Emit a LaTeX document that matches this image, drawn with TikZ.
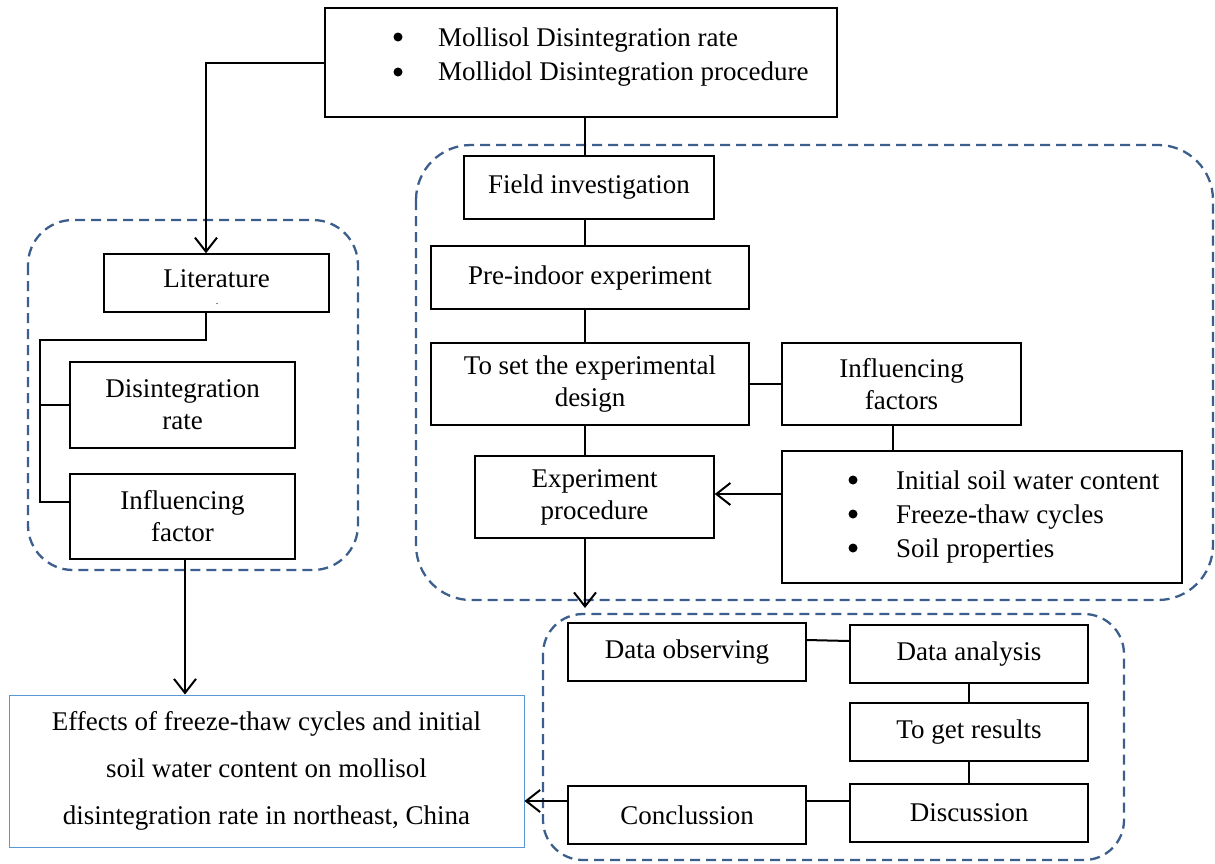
\documentclass[tikz,border=0pt]{standalone}
\usepackage{fontspec}
\setmainfont{Liberation Serif}
\usetikzlibrary{arrows.meta,calc}
\newcommand\fsz{\fontsize{27}{32}\selectfont}
\definecolor{dashblue}{RGB}{59,94,140}
\definecolor{lightblue}{RGB}{91,150,215}
\tikzset{
 boxnode/.style={draw, line width=1.5pt, inner sep=0pt, align=center, font=\fsz},
 dashregion/.style={draw=dashblue, line width=2.3pt, dash pattern=on 10pt off 6pt},
 conn/.style={line width=2pt},
 arr/.style={conn, -{Straight Barb[length=14pt,width=22pt,line width=2pt]}},
 bodytext/.style={font=\fsz, anchor=base west, inner sep=0pt},
 dot/.style={circle, fill, inner sep=0pt, minimum size=9pt},
}
\begin{document}
\begin{tikzpicture}[x=1pt,y=-1pt]
\useasboundingbox (0,0) rectangle (1215,863);
% dashed regions
\draw[dashregion, rounded corners=45pt] (28,220) rectangle (358,570);
\draw[dashregion, rounded corners=55pt] (416,145) rectangle (1213,600);
\draw[dashregion, rounded corners=40pt] (543,614) rectangle (1124,860);
% top box
\node[boxnode, minimum width=512pt, minimum height=109pt] (top) at (581,62.5) {};
\node[dot] (tb1) at (398,37) {};
\node[dot] (tb2) at (398,72) {};
\node[bodytext] (tt1) at (438,46) {Mollisol Disintegration rate};
\node[bodytext] (tt2) at (438,80) {Mollidol Disintegration procedure};
% left column
\node[boxnode, minimum width=225pt, minimum height=58pt] (lit) at (216.5,283) {};
\node[font=\fsz, inner sep=0pt] (littext) at (216.5,279) {Literature};
\node[font=\fontsize{10}{10}\selectfont, inner sep=0pt] (litdot) at (217,304) {.};
\node[boxnode, minimum width=225pt, minimum height=86pt] (dis) at (182.5,405) {Disintegration\\rate};
\node[boxnode, minimum width=225pt, minimum height=85pt] (inf) at (182.5,516.5) {Influencing\\factor};
\node[boxnode, draw=lightblue, line width=1pt, minimum width=515pt, minimum height=152pt, font=\fontsize{27}{47}\selectfont] (eff) at (266.5,771) {Effects of freeze-thaw cycles and initial\\soil water content on mollisol\\disintegration rate in northeast, China};
% right region
\node[boxnode, minimum width=250pt, minimum height=63pt] (field) at (589,187.5) {Field investigation};
\node[boxnode, minimum width=318pt, minimum height=63pt] (pre) at (590,277.5) {Pre-indoor experiment};
\node[boxnode, minimum width=318pt, minimum height=82pt] (set) at (590,384) {To set the experimental\\design};
\node[boxnode, minimum width=239pt, minimum height=82pt] (infl) at (901.5,384) {Influencing\\factors};
\node[boxnode, minimum width=239pt, minimum height=82pt] (exp) at (594.5,497) {Experiment\\procedure};
\node[boxnode, minimum width=400pt, minimum height=132pt] (bul) at (982,517) {};
\node[dot] (bb1) at (853,480) {};
\node[dot] (bb2) at (853,514) {};
\node[dot] (bb3) at (853,548) {};
\node[bodytext] (bt1) at (896,489) {Initial soil water content};
\node[bodytext] (bt2) at (896,523) {Freeze-thaw cycles};
\node[bodytext] (bt3) at (896,557) {Soil properties};
% lower region
\node[boxnode, minimum width=238pt, minimum height=58pt] (dobs) at (687,652) {Data observing};
\node[boxnode, minimum width=238pt, minimum height=58pt] (dana) at (969,654) {Data analysis};
\node[boxnode, minimum width=238pt, minimum height=58pt] (res) at (969,732) {To get results};
\node[boxnode, minimum width=238pt, minimum height=58pt] (disc) at (969,813) {Discussion};
\node[boxnode, minimum width=238pt, minimum height=58pt] (conc) at (687,815) {Conclussion};
% connectors
\coordinate (b1) at (40,340);
\coordinate (e1) at (585,608);
\draw[arr] (top.west) -| ([xshift=-10.5pt]lit.north);
\draw[conn] ([xshift=4pt]top.south) -- ([xshift=-4pt]field.north);
\draw[conn] ([xshift=-4pt]field.south) -- ([xshift=-5pt]pre.north);
\draw[conn] ([xshift=-5pt]pre.south) -- ([xshift=-5pt]set.north);
\draw[conn] (set.east) -- (infl.west);
\draw[conn] ([xshift=-5pt]set.south) -- ([xshift=-9.5pt]exp.north);
\draw[conn] ([xshift=-8.5pt]infl.south) -- ([xshift=-89pt]bul.north);
\draw[arr] ([yshift=23pt]bul.west) -- ([yshift=3pt]exp.east);
\draw[arr] ([xshift=-9.5pt]exp.south) -- (e1);
\draw[conn] ([xshift=-10.5pt]lit.south) |- (b1) |- ([yshift=14.5pt]inf.west);
\draw[conn] (b1 |- dis.west) -- (dis.west);
\draw[arr] ([xshift=2.5pt]inf.south) -- ([xshift=-81.5pt]eff.north);
\draw[conn] ([yshift=12pt]dobs.east) -- ([yshift=13pt]dana.west);
\draw[conn] (dana.south) -- (res.north);
\draw[conn] (res.south) -- (disc.north);
\draw[conn] ([yshift=12pt]disc.west) -- ([yshift=14pt]conc.east);
\draw[arr] ([yshift=14pt]conc.west) -- ([yshift=-30pt]eff.east);
\end{tikzpicture}
\end{document}
